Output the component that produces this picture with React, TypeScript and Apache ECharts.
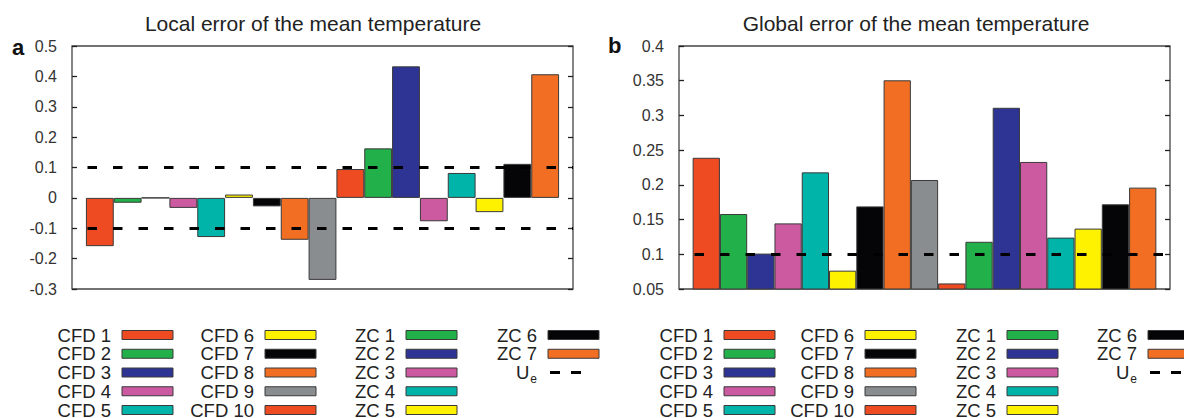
import React, { useEffect, useRef } from 'react';
import * as echarts from 'echarts';

const categories = [
  'CFD 1', 'CFD 2', 'CFD 3', 'CFD 4', 'CFD 5', 'CFD 6', 'CFD 7', 'CFD 8', 'CFD 9', 'CFD 10',
  'ZC 1', 'ZC 2', 'ZC 3', 'ZC 4', 'ZC 5', 'ZC 6', 'ZC 7',
];
const barColors = [
  '#EE4B23', '#22B04A', '#2E3494', '#CC5AA0', '#00B4AA', '#FFF200', '#050507', '#F26E22', '#8A8D90', '#EE4B23',
  '#22B04A', '#2E3494', '#CC5AA0', '#00B4AA', '#FFF200', '#050507', '#F26E22',
];
const localError = [
  -0.159, -0.016, 0, -0.033, -0.129, 0.011, -0.028, -0.138, -0.27, 0.095,
  0.163, 0.433, -0.077, 0.082, -0.047, 0.112, 0.407,
];
const globalError = [
  0.239, 0.158, 0.101, 0.1445, 0.218, 0.0764, 0.169, 0.3506, 0.207, 0.058,
  0.118, 0.311, 0.233, 0.124, 0.137, 0.172, 0.196,
];
const localThresholds = [0.1, -0.1];
const globalThresholds = [0.1];
const localTicks = [-0.3, -0.2, -0.1, 0, 0.1, 0.2, 0.3, 0.4, 0.5];
const globalTicks = [0.05, 0.1, 0.15, 0.2, 0.25, 0.3, 0.35, 0.4];
const legendColumns = [
  ['CFD 1', 'CFD 2', 'CFD 3', 'CFD 4', 'CFD 5'],
  ['CFD 6', 'CFD 7', 'CFD 8', 'CFD 9', 'CFD 10'],
  ['ZC 1', 'ZC 2', 'ZC 3', 'ZC 4', 'ZC 5'],
  ['ZC 6', 'ZC 7', 'Ue'],
];

const FONT = 'Liberation Sans, Arial, sans-serif';
const W = 1184;
const DASH = [9.5, 16];

const panels = [
  { gridLeft: 72, gridRight: 611, values: localError, thresholds: localThresholds, ticks: localTicks,
    title: 'Local error of the mean temperature', titleX: 313, letter: 'a', letterLeft: 12, letterTop: 36,
    swatchLefts: [122, 265, 406, 548] },
  { gridLeft: 679, gridRight: 14, values: globalError, thresholds: globalThresholds, ticks: globalTicks,
    title: 'Global error of the mean temperature', titleX: 916, letter: 'b', letterLeft: 608, letterTop: 34,
    swatchLefts: [724, 865, 1007, 1148] },
];

const LEGEND_TOP = 335;
const LEGEND_STEP = 18.75;
const SW_W = 51;
const SW_H = 9;
const TEXT_GAP = 11;

const fmt = (v: number) => String(Number(v.toFixed(2)));

function buildOption() {
  const grid: any[] = [];
  const xAxis: any[] = [];
  const yAxis: any[] = [];
  const series: any[] = [];
  const title: any[] = [];
  const graphic: any[] = [];

  panels.forEach((p, i) => {
    grid.push({
      left: p.gridLeft, right: p.gridRight, top: 46, bottom: 129,
      show: true, borderColor: '#444', borderWidth: 1.3, backgroundColor: 'transparent',
    });
    xAxis.push({ type: 'value', gridIndex: i, min: 0, max: categories.length + 1, show: false });
    const min = p.ticks[0];
    const max = p.ticks[p.ticks.length - 1];
    const interval = Number((p.ticks[1] - p.ticks[0]).toFixed(4));
    const base = {
      type: 'value', gridIndex: i, min, max, interval,
      axisLine: { show: false },
      splitLine: { show: false },
      axisTick: { show: true, inside: true, length: 5, lineStyle: { color: '#222', width: 1.3 } },
    };
    yAxis.push({
      ...base, position: 'left',
      axisLabel: { fontSize: 16, color: '#333', margin: 15, fontFamily: FONT, formatter: fmt },
    });
    yAxis.push({ ...base, position: 'right', axisLabel: { show: false } });

    const plotWidth = W - p.gridLeft - p.gridRight;
    const bw = plotWidth / (categories.length + 1);
    categories.forEach((name, k) => {
      series.push({
        type: 'bar', name, xAxisIndex: i, yAxisIndex: i * 2,
        data: [[k + 1, p.values[k]]],
        barWidth: bw, barGap: '-100%',
        itemStyle: { color: barColors[k], borderColor: '#3a3a3a', borderWidth: 1 },
        silent: true,
      });
    });
    series.push({
      type: 'line', name: 'Ue', xAxisIndex: i, yAxisIndex: i * 2, data: [],
      symbol: 'none', lineStyle: { color: '#000', width: 3, type: DASH },
      markLine: {
        silent: true, symbol: ['none', 'none'], label: { show: false }, z: 10,
        lineStyle: { color: '#000', width: 3, type: DASH, dashOffset: DASH[0] },
        data: p.thresholds.map((v) => ({ yAxis: v })),
      },
    });

    title.push({
      text: p.title, left: p.titleX, textAlign: 'center', top: 12.5, padding: 0,
      textStyle: { fontSize: 21, fontWeight: 'normal', color: '#222', fontFamily: FONT },
    });
    title.push({
      text: p.letter, left: p.letterLeft, top: p.letterTop, padding: 0,
      textStyle: { fontSize: 22, fontWeight: 'bold', color: '#111', fontFamily: FONT },
    });

    legendColumns.forEach((col, c) => {
      const sx = p.swatchLefts[c];
      col.forEach((name, r) => {
        const cy = LEGEND_TOP + r * LEGEND_STEP;
        if (name === 'Ue') {
          graphic.push({
            type: 'text', silent: true,
            style: {
              text: '{u|U}{s|e}', x: sx - TEXT_GAP, y: cy, align: 'right', verticalAlign: 'middle',
              fill: '#222', fontFamily: FONT, fontSize: 18.5,
              rich: {
                u: { fontSize: 18.5, fontFamily: FONT, fill: '#222', lineHeight: 20 },
                s: { fontSize: 12, fontFamily: FONT, fill: '#222', lineHeight: 12, padding: [13, 0, 0, 1] },
              },
            },
          });
          graphic.push({
            type: 'line', silent: true,
            shape: { x1: sx + 2, y1: cy, x2: sx + 33, y2: cy },
            style: { stroke: '#000', lineWidth: 3, lineDash: [10, 11] },
          });
        } else {
          const k = categories.indexOf(name);
          graphic.push({
            type: 'text', silent: true,
            style: {
              text: name, x: sx - TEXT_GAP, y: cy, align: 'right', verticalAlign: 'middle',
              fill: '#222', fontFamily: FONT, fontSize: 18.5,
            },
          });
          graphic.push({
            type: 'rect', silent: true,
            shape: { x: sx, y: cy - SW_H / 2, width: SW_W, height: SW_H },
            style: { fill: barColors[k], stroke: '#3a3a3a', lineWidth: 1 },
          });
        }
      });
    });
  });

  return {
    animation: false,
    backgroundColor: '#fff',
    textStyle: { fontFamily: FONT },
    title, grid, xAxis, yAxis, series, graphic,
  };
}

export default function App() {
  const ref = useRef<HTMLDivElement>(null);
  useEffect(() => {
    if (!ref.current) return;
    const chart = echarts.init(ref.current, undefined, { renderer: 'svg' });
    chart.setOption(buildOption() as any);
    return () => chart.dispose();
  }, []);
  return (
    <div
      ref={ref}
      style={{ position: 'fixed', left: 0, top: 0, width: 1184, height: 418, background: '#fff' }}
    />
  );
}
